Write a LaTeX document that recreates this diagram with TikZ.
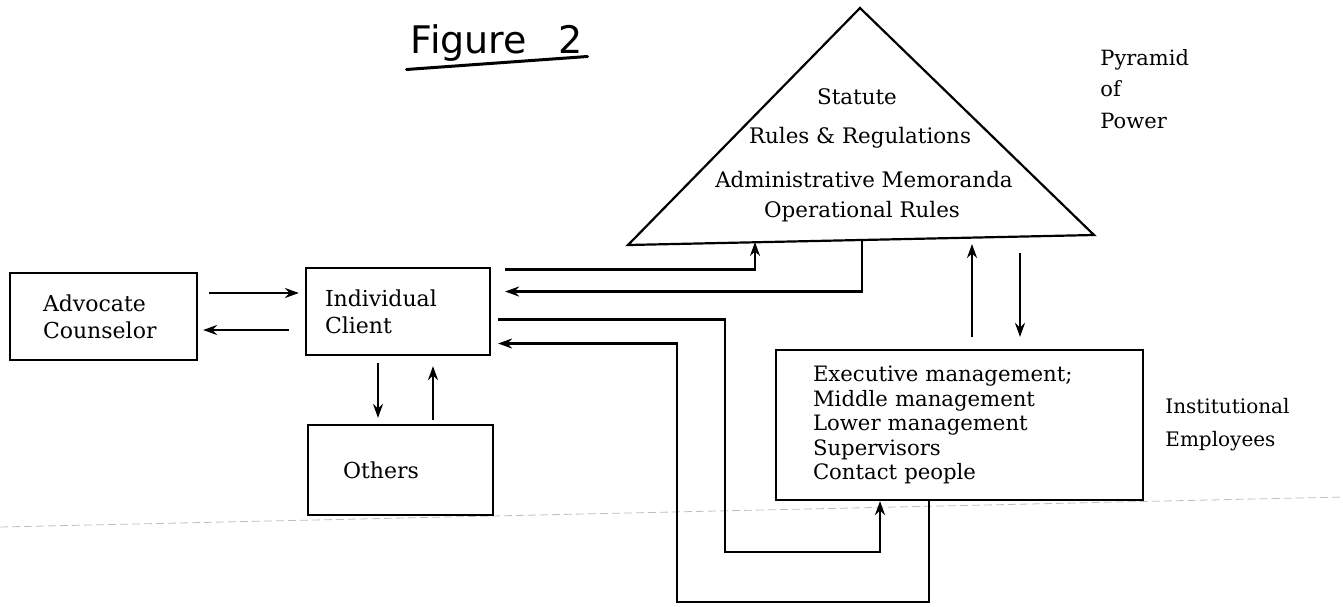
\documentclass[tikz,border=0pt]{standalone}
\usepackage{fontspec}
\setmainfont{DejaVu Serif}
\newfontfamily\handfont{DejaVu Sans}
\usetikzlibrary{arrows.meta}

\tikzset{
  box/.style={draw, line width=1.1pt, inner sep=0pt, align=left, font=\fontsize{11}{13.5}\selectfont},
  wire/.style={line width=1.1pt},
  arr/.style={line width=1.1pt, -{Stealth[length=7pt,width=5pt]}},
  txt/.style={inner sep=0pt, font=\fontsize{10.7}{12}\selectfont},
  lbl/.style={inner sep=0pt, align=left, anchor=west}
}

\begin{document}
\begin{tikzpicture}[x=0.5pt,y=-0.5pt]
\useasboundingbox (0,0) rectangle (1343,606);

\node[inner sep=0pt, font=\handfont\fontsize{19}{22}\selectfont] (fig) at (497,43) {Figure\hspace{16pt}2};
\draw[line width=1.5pt, line cap=round] ([xshift=-2pt,yshift=-8pt]fig.base west) -- ([xshift=2pt,yshift=-1.5pt]fig.base east);

\draw[gray!50, line width=0.4pt, dash pattern=on 4pt off 2pt] (0,527) -- (1343,497);

\coordinate (pyl) at (628,245);
\coordinate (apex) at (860,8);
\coordinate (pyr) at (1094,235);
\draw[wire] (pyl) -- (apex) -- (pyr) -- cycle;
\node[txt] (stat) at (857,97) {Statute};
\node[txt] (rules) at (860,138) {Rules \& Regulations};
\node[txt] (memo) at (864,180) {Administrative Memoranda};
\node[txt] (oper) at (862,212) {Operational Rules};
\node[lbl, font=\fontsize{10.5}{15.75}\selectfont] (pow) at (1100,89) {Pyramid\\of\\Power};

\coordinate (b1) at (755,242);
\coordinate (b2) at (862,240);
\coordinate (b3) at (972,238);
\coordinate (b4) at (1020,237);

\node[box, minimum width=93.5pt, minimum height=43.5pt, text width=60.5pt] (adv) at (103.5,316.5) {Advocate\\Counselor};
\node[box, minimum width=92pt, minimum height=43.5pt, text width=73pt] (client) at (398,311.5) {Individual\\Client};
\node[box, minimum width=92.5pt, minimum height=45pt, text width=57.5pt] (others) at (400.5,470) {Others};
\node[box, minimum width=183.5pt, minimum height=75pt, text width=146.5pt, font=\fontsize{10.6}{12.25}\selectfont] (emp) at (959.5,425) {Executive management;\\Middle management\\Lower management\\Supervisors\\Contact people};
\node[lbl, font=\fontsize{10}{16.5}\selectfont] (inst) at (1165,425) {Institutional\\Employees};

\coordinate (a1) at ([yshift=11.75pt]adv.east);
\coordinate (a2) at ([yshift=-6.75pt]adv.east);
\draw[arr, shorten <=5.5pt, shorten >=3pt] (a1) -- (a1 -| client.west);
\draw[arr, shorten <=8pt, shorten >=2.5pt] (a2 -| client.west) -- (a2);

\coordinate (d1) at ([xshift=-10pt]client.south);
\coordinate (d2) at ([xshift=17.5pt]client.south);
\draw[arr, shorten <=3.5pt, shorten >=3pt] (d1) -- (d1 |- others.north);
\draw[arr, shorten <=2pt, shorten >=5pt] (d2 |- others.north) -- (d2);

\coordinate (k3) at (725,552);
\coordinate (k4) at (677,602);
\draw[arr, shorten <=3.5pt] ([xshift=3.5pt,yshift=21pt]client.east) -| (b1);
\draw[arr, shorten >=3.5pt] (b2) |- ([xshift=3.5pt,yshift=10pt]client.east);
\draw[arr] ([xshift=3.5pt,yshift=-4pt]client.east) -| (k3) -| ([xshift=-39.75pt]emp.south);
\draw[arr] ([xshift=-15.25pt]emp.south) |- (k4) |- ([xshift=3.5pt,yshift=-16pt]client.east);

\coordinate (e1) at ([xshift=6.25pt]emp.north);
\coordinate (e2) at ([xshift=30.25pt]emp.north);
\draw[arr, shorten <=6pt, shorten >=3pt] (e1) -- (e1 |- b3);
\draw[arr, shorten <=8pt, shorten >=6pt] (e2 |- b4) -- (e2);
\end{tikzpicture}
\end{document}
